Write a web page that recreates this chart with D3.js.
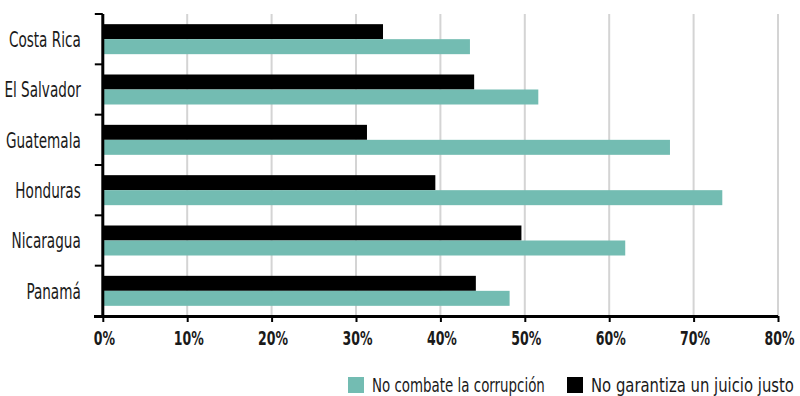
<!DOCTYPE html>
<html>
<head>
<meta charset="utf-8">
<script src="https://cdn.jsdelivr.net/npm/d3@7"></script>
<style>
  body { margin: 0; background: #fff; }
  svg text { font-family: "DejaVu Sans Condensed", "DejaVu Sans", sans-serif; fill: #1a1a1a; }
</style>
</head>
<body>
<div id="chart"></div>
<script>
var countries = ["Costa Rica", "El Salvador", "Guatemala", "Honduras", "Nicaragua", "Panamá"];
var noCombate = [43.5, 51.6, 67.2, 73.4, 61.9, 48.2];
var noGarantiza = [33.2, 44.0, 31.3, 39.4, 49.6, 44.2];
var xTicks = [0, 10, 20, 30, 40, 50, 60, 70, 80];
var seriesNames = ["No combate la corrupción", "No garantiza un juicio justo"];
var colors = ["#73bcb2", "#000000"];

var width = 800, height = 396;
var svg = d3.select("#chart").append("svg")
  .attr("width", width)
  .attr("height", height);

var x = d3.scaleLinear().domain([0, 80]).range([102.8, 778]);
var y = d3.scaleBand().domain(countries).range([14, 316]);
var barH = 15;

// grid
svg.selectAll("line.grid")
  .data(xTicks.slice(1))
  .enter().append("line")
  .attr("class", "grid")
  .attr("x1", function(d) { return x(d); })
  .attr("x2", function(d) { return x(d); })
  .attr("y1", 14)
  .attr("y2", 316)
  .style("stroke", "#d4d4d4")
  .style("stroke-width", 2);

var rows = countries.map(function(c, i) {
  return {country: c, a: noCombate[i], b: noGarantiza[i]};
});

// black bars (top)
svg.selectAll("rect.b")
  .data(rows)
  .enter().append("rect")
  .attr("class", "b")
  .attr("x", x(0))
  .attr("y", function(d) { return y(d.country) + y.bandwidth() / 2 - barH; })
  .attr("width", function(d) { return x(d.b) - x(0); })
  .attr("height", barH)
  .attr("fill", colors[1]);

// teal bars (bottom)
svg.selectAll("rect.a")
  .data(rows)
  .enter().append("rect")
  .attr("class", "a")
  .attr("x", x(0))
  .attr("y", function(d) { return y(d.country) + y.bandwidth() / 2; })
  .attr("width", function(d) { return x(d.a) - x(0); })
  .attr("height", barH)
  .attr("fill", colors[0]);

// x axis
var xAxis = svg.append("g")
  .attr("transform", "translate(0,316)")
  .call(d3.axisBottom(x).tickValues(xTicks).tickFormat(function(d) { return d + "%"; }).tickSize(6).tickSizeOuter(0));
xAxis.select(".domain").style("stroke", "#000").style("stroke-width", 3)
  .attr("d", "M94,0.5H778");
xAxis.selectAll(".tick line").style("stroke", "#000").style("stroke-width", 2);
var xt = xAxis.selectAll(".tick text")
  .attr("y", 0)
  .attr("dy", "0.71em")
  .style("font-family", "DejaVu Sans Condensed, DejaVu Sans, sans-serif")
  .style("font-size", "20px")
  .style("font-weight", "bold")
  .style("fill", "#1a1a1a");
// condensed look: scale text horizontally
var k10 = 30 / xt.filter(function(d) { return d === 10; }).node().getComputedTextLength();
xt.attr("transform", "translate(1,15) scale(" + k10 + ",1)");

// y axis
var yAxis = svg.append("g")
  .attr("transform", "translate(102.8,0)");
yAxis.append("line")
  .attr("x1", 0).attr("x2", 0).attr("y1", 14).attr("y2", 316)
  .style("stroke", "#000").style("stroke-width", 3);
var yTickVals = countries.map(function(c) { return y(c); }).concat([y.range()[1]]);
yAxis.selectAll("line.yt")
  .data(yTickVals)
  .enter().append("line")
  .attr("class", "yt")
  .attr("x1", -8).attr("x2", 0)
  .attr("y1", function(d) { return d; })
  .attr("y2", function(d) { return d; })
  .style("stroke", "#000").style("stroke-width", 2);
var yt = yAxis.selectAll("text")
  .data(countries)
  .enter().append("text")
  .attr("dy", "0.38em")
  .attr("text-anchor", "end")
  .style("font-size", "20.5px")
  .text(function(d) { return d; });
var kLab = 72 / yt.filter(function(d) { return d === "Costa Rica"; }).node().getComputedTextLength();
yt.attr("transform", function(d) {
  return "translate(-22," + (y(d) + y.bandwidth() / 2) + ") scale(" + kLab + ",1)";
});

// legend
var legendX = [348, 567];
var legendW = [173, 203];
var legend = svg.selectAll("g.legend")
  .data(seriesNames)
  .enter().append("g")
  .attr("class", "legend")
  .attr("transform", function(d, i) { return "translate(" + legendX[i] + ",377)"; });
legend.append("rect")
  .attr("width", 16).attr("height", 16)
  .attr("fill", function(d, i) { return colors[i]; });
legend.append("text")
  .attr("dy", "0.37em")
  .style("font-size", "20px")
  .text(function(d) { return d; })
  .attr("transform", function(d, i) {
    var k = legendW[i] / this.getComputedTextLength();
    return "translate(24,8) scale(" + k + ",1)";
  });
</script>
</body>
</html>
